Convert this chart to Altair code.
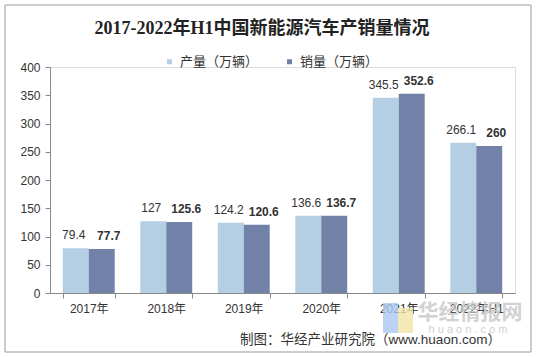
import altair as alt
import pandas as pd

years = ["2017年", "2018年", "2019年", "2020年", "2021年", "2022年H1"]
production = [79.4, 127, 124.2, 136.6, 345.5, 266.1]
sales = [77.7, 125.6, 120.6, 136.7, 352.6, 260]
series = ["产量（万辆）", "销量（万辆）"]
colors = ["#B4CFE3", "#7281A7"]
title_text = "2017-2022年H1中国新能源汽车产销量情况"
source_text = "制图：华经产业研究院（www.huaon.com）"
watermark_text = ["华经情报网", "h u a o n . c o m"]

rows = []
for yr, p, s in zip(years, production, sales):
    rows.append({"year": yr, "series": series[0], "value": p, "label": f"{p:g}"})
    rows.append({"year": yr, "series": series[1], "value": s, "label": f"{s:g}"})
df = pd.DataFrame(rows)

FONT = "Liberation Sans, Noto Sans CJK SC"

x = alt.X("year:N", sort=years, title=None,
          scale=alt.Scale(paddingInner=0.33, paddingOuter=0.165),
          axis=alt.Axis(labelAngle=0, tickBand="extent", domainColor="#888888",
                        tickColor="#888888", tickSize=5, labelColor="#333333",
                        labelFontSize=12, labelFont=FONT, labelPadding=5))
y = alt.Y("value:Q", title=None,
          scale=alt.Scale(domain=[0, 400]),
          axis=alt.Axis(values=[0, 50, 100, 150, 200, 250, 300, 350, 400], grid=False,
                        domainColor="#888888", tickColor="#888888", tickSize=5,
                        labelColor="#333333", labelFontSize=12, labelFont=FONT,
                        labelPadding=5, labelOverlap=False))
xo = alt.XOffset("series:N", sort=series)

base = alt.Chart(df)

bars = base.mark_bar().encode(
    x=x, y=y, xOffset=xo,
    color=alt.Color("series:N", sort=series,
                    scale=alt.Scale(domain=series, range=colors),
                    legend=alt.Legend(title=None, orient="none", legendX=113, legendY=-12,
                                      direction="horizontal", symbolType="square",
                                      symbolSize=25, labelFontSize=13, labelFont=FONT,
                                      labelColor="#333333", columnPadding=24,
                                      labelOffset=4, labelLimit=300)),
)

lab_p = base.transform_filter(alt.datum.series == series[0]).mark_text(
    dy=-6, dx=-2, baseline="bottom", fontSize=12, font=FONT, color="#333333"
).encode(x=x, y=y, xOffset=xo, text="label:N")

lab_s = base.transform_filter(alt.datum.series == series[1]).mark_text(
    dy=-6, dx=7, baseline="bottom", fontSize=12, font=FONT, fontWeight="bold", color="#333333"
).encode(x=x, y=y, xOffset=xo, text="label:N")

one = pd.DataFrame({"a": [1]})

title = alt.Chart(pd.DataFrame({"t": [title_text]})).mark_text(
    align="center", baseline="middle", fontSize=18, fontWeight="bold", color="#222222",
    font="Liberation Serif, Noto Sans CJK SC"
).encode(x=alt.value(212), y=alt.value(-38), text="t:N")

logo_b = alt.Chart(one).mark_rect(fill="#A9C8F0", opacity=0.8, clip=False).encode(
    x=alt.value(333), x2=alt.value(348), y=alt.value(236), y2=alt.value(266))
logo_y = alt.Chart(one).mark_rect(fill="#F3E4A6", opacity=0.8, clip=False).encode(
    x=alt.value(348), x2=alt.value(363), y=alt.value(241), y2=alt.value(266))

wm1 = alt.Chart(pd.DataFrame({"t": [watermark_text[0]]})).mark_text(
    align="center", baseline="middle", fontSize=21, fontWeight="bold", color="#C8C8C8",
    opacity=0.8, font=FONT
).encode(x=alt.value(420), y=alt.value(246), text="t:N")
wm2 = alt.Chart(pd.DataFrame({"t": [watermark_text[1]]})).mark_text(
    align="center", baseline="middle", fontSize=11, color="#D0D0D0", font=FONT
).encode(x=alt.value(418), y=alt.value(263), text="t:N")

note = alt.Chart(pd.DataFrame({"t": [source_text]})).mark_text(
    align="right", baseline="middle", fontSize=13.5, font=FONT, color="#333333"
).encode(x=alt.value(451), y=alt.value(273), text="t:N")

border = alt.Chart(one).mark_rect(
    fill=None, stroke="#9a9a9a", strokeWidth=1, clip=False
).encode(x=alt.value(-45), x2=alt.value(481), y=alt.value(-62), y2=alt.value(285))

chart = alt.layer(border, logo_b, logo_y, wm1, wm2, bars, lab_p, lab_s, title, note).properties(
    width=465, height=226,
    autosize=alt.AutoSizeParams(type="none"),
    padding={"left": 50, "top": 67, "right": 22, "bottom": 64},
).configure_view(stroke=None).configure(background="white")

chart.save("out.html", embed_options={"renderer": "svg", "actions": False})
